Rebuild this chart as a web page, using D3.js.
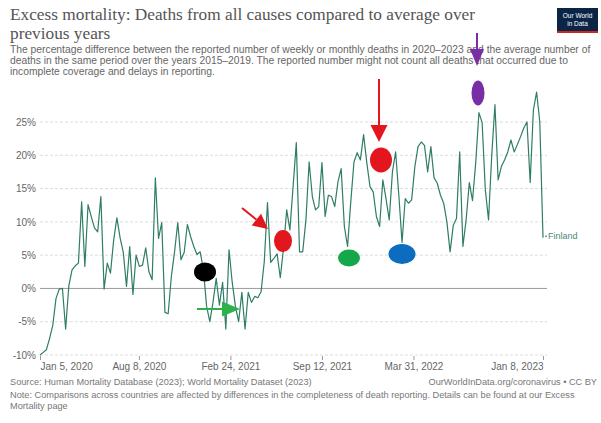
<!DOCTYPE html>
<html>
<head>
<meta charset="utf-8">
<script src="https://cdn.jsdelivr.net/npm/d3@7"></script>
<style>
  html, body { margin: 0; padding: 0; background: #fff; }
  svg { display: block; }
  text { font-family: "Liberation Sans", Arial, sans-serif; }
</style>
</head>
<body>
<svg id="chart" width="601" height="423"></svg>
<script>
// ---------------- DATA ----------------
const seriesName = "Finland";
const startDate = "2020-01-05"; // first weekly observation
const excessValues = [
  -10, -9.6, -9.2, -7.5, -5.5, -1.5, -0.1, 0, -6.1, 0.4,
  2.8, 3.4, 3.8, 13.0, 3.3, 12.6, 10.8, 9.1, 8.5, 13.8,
  -0.1, 3.8, 2.3, 7.3, 10.6, 7.6, 5.4, 0.3, 6.3, -0.9,
  5.0, 3.3, 3.5, 6.1, 2.5, 1.3, 16.6, 7.5, 9.9, -3.6,
  -3.8, 1.8, 5.5, 9.9, 4.3, 5.4, 9.6, 7.8, 6.3, 5.1,
  5.5, 2.8, -2.7, -5.0, -2.1, 1.5, -2.5, 0.9, -6.1, 5.8,
  0.9, -2.7, -5.0, -0.6, -6.1, -0.6, -2.1, -1.2, -1.4, -0.5,
  4.0, 12.9, 3.9, 4.5, 5.2, 1.6, 6.0, 11.8, 8.8, 15.3,
  21.9, 5.5, 5.5, 10.3, 19.0, 13.8, 11.8, 12.3, 18.9, 10.8,
  14.0, 13.8, 12.3, 16.0, 18.0, 9.3, 6.3, 13.0, 19.0, 20.4,
  19.3, 23.1, 18.9, 15.3, 14.5, 10.8, 9.3, 16.3, 13.5, 10.3,
  17.5, 20.5, 14.0, 6.9, 13.5, 12.8, 13.3, 18.3, 21.3, 22.0,
  21.5, 17.5, 21.3, 16.6, 15.8, 14.0, 12.8, 10.0, 5.5, 9.5,
  10.5, 20.5, 6.3, 10.3, 15.9, 13.2, 18.9, 26.4, 24.9, 14.8,
  10.3, 20.0, 27.6, 16.3, 18.3, 19.3, 20.5, 22.3, 20.5, 21.6,
  22.8, 24.1, 25.0, 15.9, 26.8, 29.5, 25.0, 7.6
];
const yTicks = [-10, -5, 0, 5, 10, 15, 20, 25];
const xTickDates = ["2020-01-05", "2020-08-08", "2021-02-24", "2021-09-12", "2022-03-31", "2023-01-08"];

const titleLines = [
  "Excess mortality: Deaths from all causes compared to average over",
  "previous years"
];
const subtitleLines = [
  "The percentage difference between the reported number of weekly or monthly deaths in 2020\u20132023 and the average number of",
  "deaths in the same period over the years 2015\u20132019. The reported number might not count all deaths that occurred due to",
  "incomplete coverage and delays in reporting."
];
const sourceText = "Source: Human Mortality Database (2023); World Mortality Dataset (2023)";
const creditText = "OurWorldInData.org/coronavirus \u2022 CC BY";
const noteLines = [
  "Note: Comparisons across countries are affected by differences in the completeness of death reporting. Details can be found at our Excess",
  "Mortality page"
];

// ---------------- BUILD ----------------
const parse = d3.timeParse("%Y-%m-%d");
const t0 = parse(startDate);
const data = excessValues.map((v, i) => ({ date: d3.timeDay.offset(t0, 7 * i), value: v }));

const svg = d3.select("#chart");

const x = d3.scaleTime()
  .domain([t0, parse(xTickDates[xTickDates.length - 1])])
  .range([40, 543]);
const y = d3.scaleLinear().domain([-10, 25]).range([355, 122]);
const gridRight = 547;

// Title
svg.append("g").selectAll("text").data(titleLines).join("text")
  .attr("x", 10).attr("y", (d, i) => 20 + i * 19)
  .style("font-family", "'Liberation Serif', 'DejaVu Serif', serif")
  .style("font-size", "17.3px")
  .attr("fill", "#555")
  .text(d => d);

// Subtitle
svg.append("g").selectAll("text").data(subtitleLines).join("text")
  .attr("x", 10).attr("y", (d, i) => 53 + i * 11)
  .style("font-size", "10.3px")
  .attr("fill", "#666")
  .text(d => d);

// Logo
const logo = svg.append("g");
logo.append("rect").attr("x", 557).attr("y", 8).attr("width", 41).attr("height", 25).attr("fill", "#0b2547");
logo.append("rect").attr("x", 557).attr("y", 31).attr("width", 41).attr("height", 2).attr("fill", "#ce261e");
logo.append("text").attr("x", 577.5).attr("y", 18).attr("text-anchor", "middle")
  .style("font-size", "6.5px").attr("fill", "#fff").text("Our World");
logo.append("text").attr("x", 577.5).attr("y", 26).attr("text-anchor", "middle")
  .style("font-size", "6.5px").attr("fill", "#fff").text("in Data");

// Grid + y axis
const yAxis = d3.axisLeft(y).tickValues(yTicks).tickFormat(d => d + "%").tickSize(0).tickPadding(4);
const gy = svg.append("g").attr("transform", "translate(40,0)").call(yAxis);
gy.select(".domain").remove();
gy.selectAll("text").style("font-size", "10px").attr("fill", "#666");

svg.append("g").selectAll("line").data(yTicks.filter(d => d !== 0)).join("line")
  .attr("x1", 40).attr("x2", gridRight)
  .attr("y1", d => y(d)).attr("y2", d => y(d))
  .attr("stroke", "#ddd").attr("stroke-dasharray", "3,2").attr("stroke-width", 1);
svg.append("line").attr("x1", 40).attr("x2", gridRight)
  .attr("y1", y(0)).attr("y2", y(0)).attr("stroke", "#9a9a9a").attr("stroke-width", 1);

// X axis
const xAxis = d3.axisBottom(x)
  .tickValues(xTickDates.map(parse))
  .tickFormat(d3.timeFormat("%b %-d, %Y"))
  .tickSize(4).tickPadding(3);
const gx = svg.append("g").attr("transform", `translate(0,${y(-10) + 1})`).call(xAxis);
gx.select(".domain").remove();
gx.selectAll(".tick line").attr("stroke", "#999");
gx.selectAll("text").style("font-size", "10px").attr("fill", "#666");
gx.selectAll(".tick text").attr("text-anchor", (d, i) => i === 0 ? "start" : (i === xTickDates.length - 1 ? "end" : "middle"));

// Line
const lineColor = "#2f7d65";
svg.append("path").datum(data)
  .attr("fill", "none").attr("stroke", lineColor).attr("stroke-width", 1.2)
  .attr("stroke-linejoin", "round")
  .attr("d", d3.line().x(d => x(d.date)).y(d => y(d.value)));

// End label
const last = data[data.length - 1];
svg.append("circle").attr("cx", x(last.date) + 3).attr("cy", y(last.value) - 1.5).attr("r", 1).attr("fill", "#6a9e8a");
svg.append("text").attr("x", x(last.date) + 5).attr("y", y(last.value) + 1.5)
  .style("font-size", "9px").attr("fill", "#4a8a72").text(seriesName);

// Annotation overlays (hand-drawn markers on the picture)
const ann = svg.append("g");
function arrow(x1, y1, x2, y2, color, head, width, sw) {
  const ang = Math.atan2(y2 - y1, x2 - x1);
  const bx = x2 - head * Math.cos(ang), by = y2 - head * Math.sin(ang);
  ann.append("line").attr("x1", x1).attr("y1", y1).attr("x2", bx).attr("y2", by)
    .attr("stroke", color).attr("stroke-width", sw);
  const px = -Math.sin(ang) * width / 2, py = Math.cos(ang) * width / 2;
  ann.append("path").attr("d", `M${x2},${y2}L${bx + px},${by + py}L${bx - px},${by - py}Z`).attr("fill", color);
}
arrow(477, 33, 477, 66, "#7a2ea6", 17, 14, 2);
arrow(379, 79, 379, 142, "#e3161d", 17, 17, 2);
arrow(242, 208, 268, 229, "#e3161d", 15, 15, 2);
arrow(197, 309, 240, 309, "#2eb04b", 18, 15, 2);
ann.append("ellipse").attr("cx", 478).attr("cy", 93).attr("rx", 6.5).attr("ry", 12.5).attr("fill", "#7a2ea6");
ann.append("ellipse").attr("cx", 381).attr("cy", 160).attr("rx", 11).attr("ry", 12.5).attr("fill", "#e3161d");
ann.append("ellipse").attr("cx", 283).attr("cy", 241).attr("rx", 9).attr("ry", 11).attr("fill", "#e3161d");
ann.append("ellipse").attr("cx", 205).attr("cy", 272).attr("rx", 11).attr("ry", 9.5).attr("fill", "#000");
ann.append("ellipse").attr("cx", 349).attr("cy", 258).attr("rx", 11).attr("ry", 8.5).attr("fill", "#14a84a");
ann.append("ellipse").attr("cx", 402).attr("cy", 254).attr("rx", 13.5).attr("ry", 10).attr("fill", "#0b6cc0");

// Footer
svg.append("text").attr("x", 10).attr("y", 385).style("font-size", "9.2px").attr("fill", "#777").text(sourceText);
svg.append("text").attr("x", 597).attr("y", 385).attr("text-anchor", "end").style("font-size", "9.2px").attr("fill", "#777").text(creditText);
svg.append("g").selectAll("text").data(noteLines).join("text")
  .attr("x", 10).attr("y", (d, i) => 398 + i * 11)
  .style("font-size", "9.2px").attr("fill", "#777").text(d => d);
</script>
</body>
</html>
